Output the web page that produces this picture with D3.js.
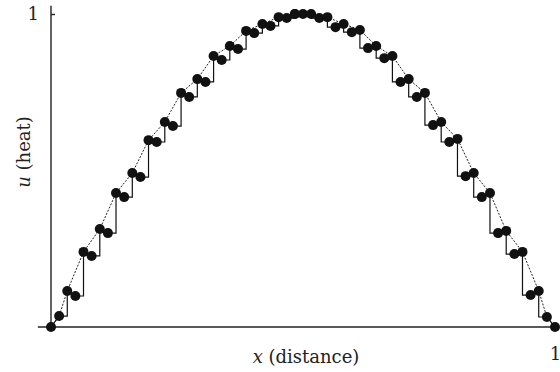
<!DOCTYPE html>
<html lang="en">
<head>
<meta charset="UTF-8">
<title>u (heat) against x (distance)</title>
<script src="https://cdn.jsdelivr.net/npm/d3@7"></script>
<style>
    body { margin: 0; background: #fff; }
    .spine { stroke: #222; stroke-width: 1.4; }
    .axis .domain { display: none; }
    .axis line { stroke: #222; stroke-width: 1.4; }
    .axis text, .label { font-family: "DejaVu Serif", serif; fill: #222; }
    .exact { fill: none; stroke: #222; stroke-width: 1; stroke-dasharray: 2,1.5; }
    .steps { fill: none; stroke: #111; stroke-width: 1.2; }
    .dot { fill: #111; }
</style>
</head>
<body>
<div id="chart"></div>
<script>
    // each cell: left dot (x0,u0) and right dot (x1,u1)
    var cellX0 = [0, .0323, .0645, .0968, .1290, .1613, .1935, .2258, .2581, .2903, .3226, .3548, .3871, .4194, .4516, .4839,
                  .5, .5323, .5645, .5968, .6290, .6613, .6935, .7258, .7581, .7903, .8226, .8548, .8871, .9194, .9516, .9839];
    var cellX1 = [.0161, .0484, .0806, .1129, .1452, .1774, .2097, .2419, .2742, .3065, .3387, .3710, .4032, .4355, .4677, .4839,
                  .5161, .5484, .5806, .6129, .6452, .6774, .7097, .7419, .7742, .8065, .8387, .8710, .9032, .9355, .9677, 1];
    var cellU0 = [0, .115, .240, .313, .428, .492, .597, .655, .748, .792, .866, .898, .946, .968, .990, 1,
                  1, .987, .958, .942, .891, .859, .783, .735, .645, .591, .482, .415, .300, .233, .102, .032];
    var cellU1 = [.035, .099, .227, .300, .415, .479, .591, .642, .735, .783, .853, .888, .939, .962, .987, 1,
                  1, .990, .968, .949, .898, .866, .792, .748, .655, .601, .492, .428, .307, .240, .115, 0];

    var yTicks = [1], xTicks = [1];
    var xTitle = "(distance)", yTitle = "(heat)";

    var width = 560, height = 372;

    var svg = d3.select("#chart").append("svg")
        .attr("width", width)
        .attr("height", height);

    var x = d3.scaleLinear().domain([0, 1]).range([51, 555]);
    var y = d3.scaleLinear().domain([0, 1]).range([327, 14]);

    /* spines */
    svg.append("line").attr("class", "spine")
        .attr("x1", x(0)).attr("x2", x(0))
        .attr("y1", y(1.026)).attr("y2", y(0));
    svg.append("line").attr("class", "spine")
        .attr("x1", x(-0.026)).attr("x2", x(1))
        .attr("y1", y(0)).attr("y2", y(0));

    svg.append("g").attr("class", "axis")
        .attr("transform", "translate(" + x(0) + ",0)")
        .call(d3.axisLeft(y).tickValues(yTicks).tickSize(-4).tickPadding(12).tickFormat(d3.format("d")))
        .selectAll("text").attr("font-size", 18);

    svg.append("g").attr("class", "axis")
        .attr("transform", "translate(0," + y(0) + ")")
        .call(d3.axisBottom(x).tickValues(xTicks).tickSize(0).tickPadding(20).tickFormat(d3.format("d")))
        .selectAll("text").attr("font-size", 18);

    var cells = cellX0.map(function(d, i) {
        return {x0: d, x1: cellX1[i], u0: cellU0[i], u1: cellU1[i]};
    });

    /* dashed exact curve through the upper dot of each cell */
    var curve = [[0, 0]];
    cells.forEach(function(c) {
        curve.push(c.u0 >= c.u1 ? [c.x0, c.u0] : [c.x1, c.u1]);
    });
    curve.push([1, 0]);

    var line = d3.line()
        .x(function(d) { return x(d[0]); })
        .y(function(d) { return y(d[1]); });

    svg.append("path").attr("class", "exact").attr("d", line(curve));

    /* staircase through the dots, corner at the lower level */
    var stair = [];
    cells.forEach(function(c, i) {
        stair.push([c.x0, c.u0], [c.x1, c.u1]);
        var n = cells[i + 1];
        if (!n) return;
        if (n.u0 > c.u1) stair.push([n.x0, c.u1]);
        else stair.push([c.x1, n.u0]);
    });
    svg.append("path").attr("class", "steps").attr("d", line(stair));

    var dots = [];
    cells.forEach(function(c) { dots.push([c.x0, c.u0], [c.x1, c.u1]); });

    svg.append("g").selectAll("circle")
        .data(dots)
        .enter().append("circle")
        .attr("class", "dot")
        .attr("cx", function(d) { return x(d[0]); })
        .attr("cy", function(d) { return y(d[1]); })
        .attr("r", 5);

    /* axis titles */
    var xt = svg.append("text").attr("class", "label")
        .attr("x", 306).attr("y", 363)
        .attr("text-anchor", "middle")
        .attr("font-size", 18);
    xt.append("tspan").attr("font-style", "italic").text("x");
    xt.append("tspan").text(" " + xTitle);

    var yt = svg.append("text").attr("class", "label")
        .attr("transform", "translate(30,152) rotate(-90)")
        .attr("text-anchor", "middle")
        .attr("font-size", 18);
    yt.append("tspan").attr("font-style", "italic").text("u");
    yt.append("tspan").text(" " + yTitle);
</script>
</body>
</html>
